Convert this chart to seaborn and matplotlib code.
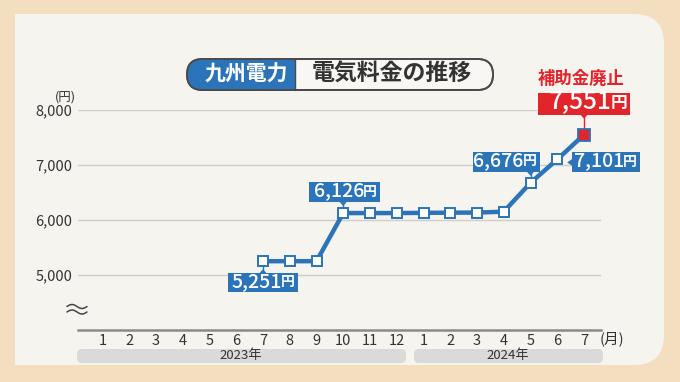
import numpy as np
import pandas as pd
import matplotlib
matplotlib.use("Agg")
import matplotlib.pyplot as plt
import matplotlib.transforms as mtransforms
from matplotlib.patches import FancyBboxPatch, Rectangle, Polygon
import seaborn as sns

# ---- data ----
month_labels = ["1", "2", "3", "4", "5", "6", "7", "8", "9", "10", "11", "12",
                "1", "2", "3", "4", "5", "6", "7"]
year_labels = ["2023年", "2024年"]
price_start_index = 6   # 2023年7月
prices = [5251, 5251, 5251, 6126, 6126, 6126, 6130, 6133, 6135, 6151, 6676, 7101, 7551]
yticks = [5000, 6000, 7000, 8000]
title_left = "九州電力"
title_right = "電気料金の推移"
highlight_note = "補助金廃止"

sns.set_theme(style="white")
plt.rcParams["font.family"] = ["Noto Sans CJK JP", "DejaVu Sans"]

W, H = 680, 382
fig = plt.figure(figsize=(W / 100, H / 100), dpi=100)
OUTER = "#f3dfc0"
INNER = "#f5f4ef"
BLUE = "#2b74b9"
RED = "#e2242b"
DARK = "#333333"
fig.patch.set_facecolor(OUTER)

# background axes in pixel coordinates
bg = fig.add_axes([0, 0, 1, 1], zorder=0)
bg.set_xlim(0, W)
bg.set_ylim(H, 0)
bg.axis("off")
bg.add_patch(FancyBboxPatch((15, 14), 649, 351, boxstyle="round,pad=0,rounding_size=30",
                            fc=INNER, ec="none"))
bg.add_patch(Rectangle((15, 14), 330, 351, fc=INNER, ec="none"))

# title pill
pill = FancyBboxPatch((187, 59), 306, 31, boxstyle="round,pad=0,rounding_size=15.5",
                      fc="#f8f7f3", ec="#4a4a4a", lw=1.3, zorder=2)
bg.add_patch(pill)
blue_part = FancyBboxPatch((187, 59), 306, 31, boxstyle="round,pad=0,rounding_size=15.5",
                           fc=BLUE, ec="none", zorder=3)
bg.add_patch(blue_part)
clip = Rectangle((150, 50), 145, 50, transform=bg.transData)
blue_part.set_clip_path(clip)
bg.add_patch(FancyBboxPatch((187, 59), 306, 31, boxstyle="round,pad=0,rounding_size=15.5",
                            fc="none", ec="#4a4a4a", lw=1.3, zorder=4))
bg.plot([295, 295], [59, 90], color="#4a4a4a", lw=1.0, zorder=4)
bg.text(246, 74.5, title_left, color="white", fontsize=15, fontweight="bold",
        ha="center", va="center", zorder=5)
bg.text(392, 74.5, title_right, color=DARK, fontsize=16.5, fontweight="bold",
        ha="center", va="center", zorder=5)

# year bars
bg.add_patch(FancyBboxPatch((77, 349), 329, 14, boxstyle="round,pad=0,rounding_size=5",
                            fc="#dadada", ec="none"))
bg.add_patch(FancyBboxPatch((414, 349), 189, 14, boxstyle="round,pad=0,rounding_size=5",
                            fc="#dadada", ec="none"))
bg.text(241, 355.5, year_labels[0], fontsize=9.5, color=DARK, ha="center", va="center")
bg.text(508, 355.5, year_labels[1], fontsize=9.5, color=DARK, ha="center", va="center")

# axis break symbol
xs = np.linspace(67, 87, 60)
for y0 in (306.5, 312):
    bg.plot(xs, y0 - 2.0 * np.sin((xs - 67) / 20 * 2 * np.pi), color="#444444", lw=1.1)

bg.text(65, 97, "(円)", fontsize=9, color=DARK, ha="center", va="center")
bg.text(612, 339, "(月)", fontsize=10.5, color=DARK, ha="center", va="center")

# ---- main axes ----
x0_px, x1_px = 78, 601
ybot_px, ytop_px = 330, 110
ax = fig.add_axes([x0_px / W, 1 - ybot_px / H, (x1_px - x0_px) / W, (ybot_px - ytop_px) / H],
                  zorder=2)
ax.set_facecolor("none")
ax.set_xlim((x0_px - 102.5) / 26.75, (x1_px - 102.5) / 26.75)
ax.set_ylim(4000, 8000)

df = pd.DataFrame({
    "idx": np.arange(price_start_index, price_start_index + len(prices)),
    "price": prices,
})

for v in yticks:
    ax.axhline(v, color="#cfcdc8", lw=1.0, zorder=1)

sns.lineplot(data=df, x="idx", y="price", ax=ax, color=BLUE, lw=3.2, zorder=3,
             marker="s", markersize=6.5, markerfacecolor="white", markeredgecolor=BLUE,
             markeredgewidth=1.4)
last = df.iloc[[-1]]
ax.plot(last["idx"], last["price"], ls="none", marker="s", markersize=8.5,
        markerfacecolor=RED, markeredgecolor=BLUE, markeredgewidth=1.3, zorder=5)

ax.set_xticks(range(len(month_labels)))
ax.set_xticklabels(month_labels, fontsize=10.5, color=DARK)
ax.set_yticks(yticks)
ax.set_yticklabels([f"{v:,}" for v in yticks], fontsize=10.5, color=DARK)
ax.tick_params(axis="both", length=0)
ax.tick_params(axis="x", pad=3)
ax.tick_params(axis="y", pad=4)
ax.set_xlabel("")
ax.set_ylabel("")
for s in ("top", "right", "left"):
    ax.spines[s].set_visible(False)
ax.spines["bottom"].set_color("#8a8a8a")
ax.spines["bottom"].set_linewidth(1.8)


def anchored(i, v):
    # pixel offsets relative to a data point, y pointing down
    return mtransforms.Affine2D().scale(1, -1) + mtransforms.ScaledTranslation(i, v, ax.transData)


def draw_box(T, box, color, pointer):
    bx0, by0, bx1, by1 = box
    ax.add_patch(Rectangle((bx0, by0), bx1 - bx0, by1 - by0, transform=T, fc=color, ec="none",
                           zorder=6, clip_on=False))
    if pointer == "down":   # box above point
        ax.add_patch(Polygon([(-3.5, by1), (3.5, by1), (0, by1 + 4)], closed=True, transform=T,
                             fc=color, ec="none", zorder=6, clip_on=False))
        ax.plot([0, 0], [by1, -5], transform=T, color=color, lw=1.0, zorder=4, clip_on=False)
    elif pointer == "up":   # box below point
        ax.add_patch(Polygon([(-3.5, by0), (3.5, by0), (0, by0 - 4)], closed=True, transform=T,
                             fc=color, ec="none", zorder=6, clip_on=False))
        ax.plot([0, 0], [by0, 5], transform=T, color=color, lw=1.0, zorder=4, clip_on=False)
    elif pointer == "left":
        ym = (by0 + by1) / 2
        ax.add_patch(Polygon([(bx0, ym - 3.5), (bx0, ym + 3.5), (bx0 - 5, ym)], closed=True,
                             transform=T, fc=color, ec="none", zorder=6, clip_on=False))


def yen_label(i, v, box, color, numsize, yensize, pointer, yen_w, dy=0.0):
    bx0, by0, bx1, by1 = box
    T = anchored(i, v)
    draw_box(T, box, color, pointer)
    cy = (by0 + by1) / 2 + dy
    ax.text(bx1 - yen_w - 3, cy, f"{v:,}", transform=T, fontsize=numsize, color="white",
            fontweight="medium", ha="right", va="center", zorder=7, clip_on=False)
    ax.text(bx1 - 3, cy + 1.0, "円", transform=T, fontsize=yensize, color="white",
            fontweight="bold", ha="right", va="center", zorder=7, clip_on=False)


idxs = list(df["idx"])
vals = list(df["price"])
yen_label(idxs[0], vals[0], (-35, 12, 35, 31), BLUE, 14, 10, "up", 13, dy=-1.5)
yen_label(idxs[3], vals[3], (-34, -31, 37, -11), BLUE, 14, 10, "down", 13, dy=-1.5)
yen_label(idxs[10], vals[10], (-58, -31, 9, -11), BLUE, 14, 10, "down", 13, dy=-1.5)
yen_label(idxs[11], vals[11], (15, -7, 83, 13), BLUE, 14, 10, "left", 13, dy=-1.5)
yen_label(idxs[12], vals[12], (-46, -42, 46, -20), RED, 17.5, 12, "down", 16, dy=-2.0)
ax.text(-3, -56, highlight_note, transform=anchored(idxs[12], vals[12]), fontsize=12.5,
        color=RED, fontweight="bold", ha="center", va="center", zorder=7, clip_on=False)

fig.savefig("out.png", dpi=100, facecolor=fig.get_facecolor())
